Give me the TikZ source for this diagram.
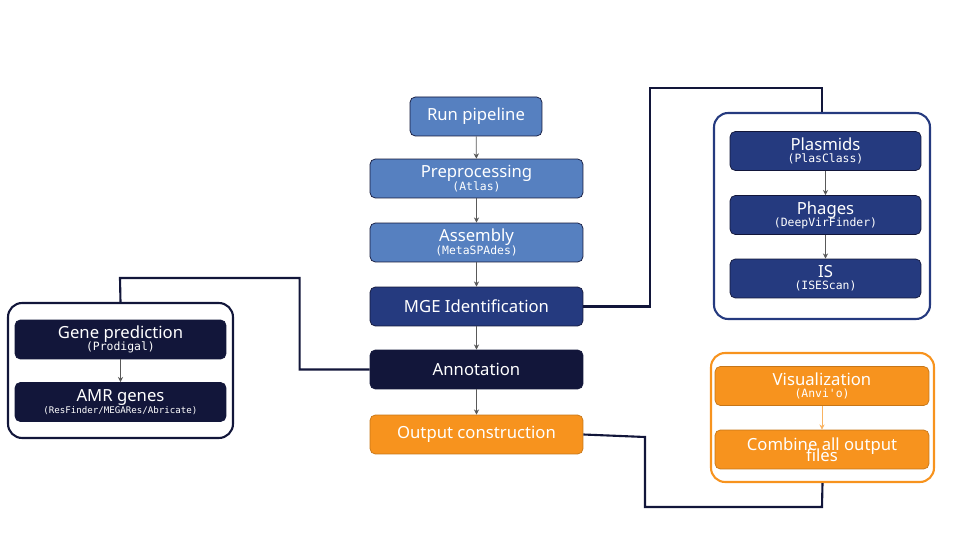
\documentclass[tikz,border=0pt]{standalone}
\usepackage{fontspec}
\setmainfont{Noto Sans}
\setmonofont{DejaVu Sans Mono}
\usepackage{xcolor}
\usetikzlibrary{arrows.meta,positioning}
\definecolor{lightblue}{HTML}{5680C0}
\definecolor{mgeblue}{HTML}{253A7F}
\definecolor{navy}{HTML}{12163A}
\definecolor{outorange}{HTML}{F7931E}

\begin{document}
\begin{tikzpicture}[x=0.02cm, y=-0.02cm,
    stage/.style={draw=navy, rounded corners=3pt, text=white, align=center,
        minimum height=0.78cm, inner sep=0pt, font=\fontsize{9.5pt}{10pt}\selectfont},
    group/.style={draw, line width=1.2pt, rounded corners=8pt},
    link/.style={draw=navy, line width=1.2pt},
    flow/.style={-{Stealth[length=3pt,width=3pt]}, draw=gray!70!black, thin}
]
    \useasboundingbox (0,0) rectangle (960,540);

    % Main pipeline
    \node[stage, fill=lightblue, minimum width=2.64cm] (run) at (476,116.5) {Run pipeline};
    \node[stage, fill=lightblue, minimum width=4.26cm] (pre) at (476.5,178.5) {Preprocessing\\[-3pt]{\ttfamily\fontsize{6.5pt}{7pt}\selectfont (Atlas)}};
    \node[stage, fill=lightblue, minimum width=4.26cm] (asm) at (476.5,242.5) {Assembly\\[-3pt]{\ttfamily\fontsize{6.5pt}{7pt}\selectfont (MetaSPAdes)}};
    \node[stage, fill=mgeblue, minimum width=4.26cm] (mge) at (476.5,306.5) {MGE Identification};
    \node[stage, fill=navy, minimum width=4.26cm] (ann) at (476.5,369.5) {Annotation};
    \node[stage, fill=outorange, draw=outorange!80!black, minimum width=4.26cm] (out) at (476.5,434.5) {Output construction};

    \draw[flow] (run) -- (pre);
    \draw[flow] (pre) -- (asm);
    \draw[flow] (asm) -- (mge);
    \draw[flow] (mge) -- (ann);
    \draw[flow] (ann) -- (out);

    % MGE group
    \node[group, draw=mgeblue, minimum width=4.32cm, minimum height=4.12cm] (mgebox) at (822,216) {};
    \node[stage, fill=mgeblue, minimum width=3.82cm] (pla) at (825.5,151) {Plasmids\\[-3pt]{\ttfamily\fontsize{6.5pt}{7pt}\selectfont (PlasClass)}};
    \node[stage, fill=mgeblue, minimum width=3.82cm] (pha) at (825.5,215) {Phages\\[-3pt]{\ttfamily\fontsize{6.5pt}{7pt}\selectfont (DeepVirFinder)}};
    \node[stage, fill=mgeblue, minimum width=3.82cm] (is) at (825.5,278.5) {IS\\[-3pt]{\ttfamily\fontsize{6.5pt}{7pt}\selectfont (ISEScan)}};
    \draw[flow] (pla) -- (pha);
    \draw[flow] (pha) -- (is);

    % Annotation group
    \node[group, draw=navy, minimum width=4.5cm, minimum height=2.7cm] (annbox) at (120.5,370.5) {};
    \node[stage, fill=navy, minimum width=4.22cm] (gene) at (120.5,339.5) {Gene prediction\\[-3pt]{\ttfamily\fontsize{6.5pt}{7pt}\selectfont (Prodigal)}};
    \node[stage, fill=navy, minimum width=4.22cm] (amr) at (120.5,402) {AMR genes\\[-3pt]{\ttfamily\fontsize{5.2pt}{6pt}\selectfont (ResFinder/MEGARes/Abricate)}};
    \draw[flow] (gene) -- (amr);

    % Output group
    \node[group, draw=outorange, minimum width=4.46cm, minimum height=2.58cm] (outbox) at (822.5,417.5) {};
    \node[stage, fill=outorange, draw=outorange!80!black, minimum width=4.28cm] (vis) at (822,386) {Visualization\\[-3pt]{\ttfamily\fontsize{6.5pt}{7pt}\selectfont (Anvi'o)}};
    \node[stage, fill=outorange, draw=outorange!80!black, minimum width=4.28cm] (comb) at (822,449.5) {Combine all output\\[-4pt]files};
    \draw[flow, draw=outorange!70!white] (vis) -- (comb);

    % Links to groups
    \draw[link] (mge.east) -- ++(67,0) |- (822,88) -- (mgebox.north);
    \draw[link] (ann.west) -- ++(-70,0) |- (120,278) -- (annbox.north);
    \draw[link] (out.east) -- (645,437) |- (822,507) -- (outbox.south);
\end{tikzpicture}
\end{document}
